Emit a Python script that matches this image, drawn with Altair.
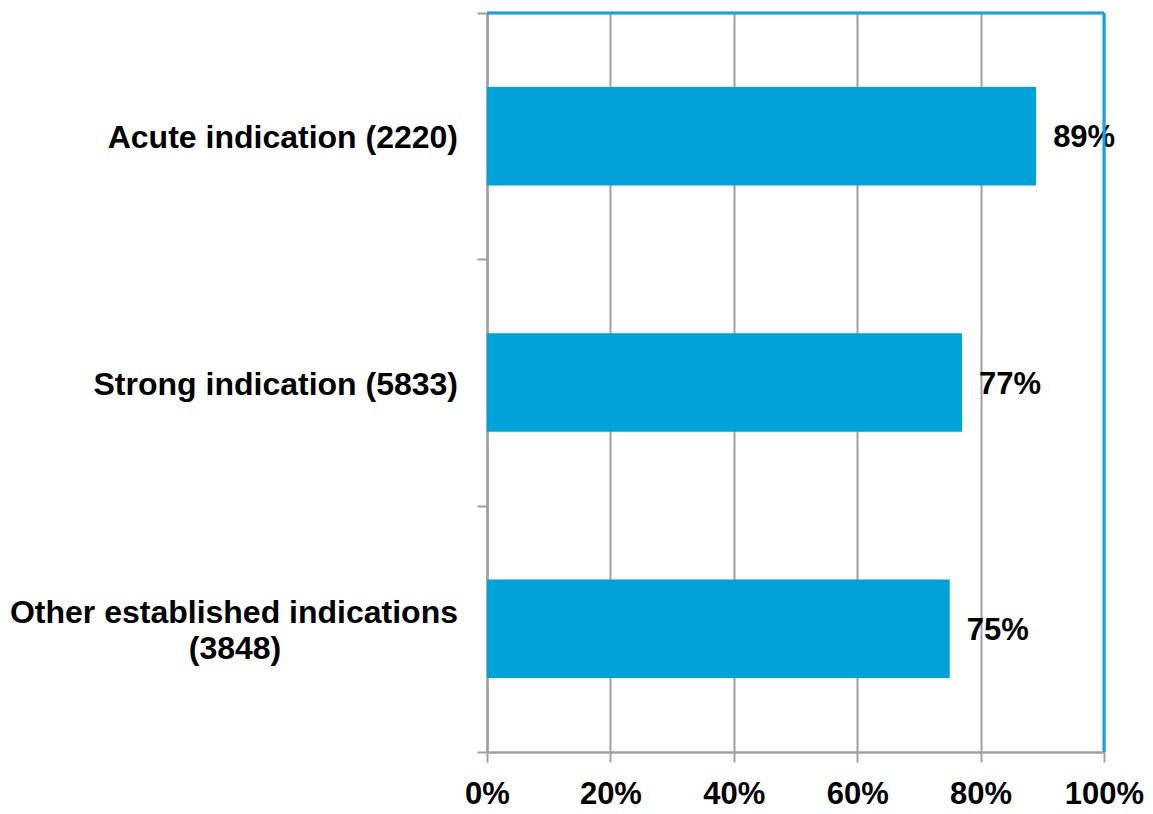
import altair as alt
import pandas as pd

# Indication groups (sample size in brackets) and share of patients, in percent
categories = [
    "Acute indication (2220)",
    "Strong indication (5833)",
    "Other established indications (3848)",
]
label_lines = [
    ["Acute indication (2220)"],
    ["Strong indication (5833)"],
    ["Other established indications", "(3848)"],
]
shares = [89, 77, 75]
x_ticks = [0, 20, 40, 60, 80, 100]

BAR_BLUE = "#00A2DA"
FRAME_BLUE = "#17A3DC"
GREY = "#A0A0A0"
FONT = "Liberation Sans"

W, H = 617, 739

bars_df = pd.DataFrame({"group": categories, "share": shares})

rows = []
for cat, lines in zip(categories, label_lines):
    n = len(lines)
    for i, t in enumerate(lines):
        kind = "single" if n == 1 else ("first" if i == 0 else "second")
        rows.append({"group": cat, "line": t, "kind": kind})
labels_df = pd.DataFrame(rows)

# one band per group with no padding, so ticks fall on the band boundaries;
# the bars themselves take 40% of each band
y_scale = alt.Scale(paddingInner=0, paddingOuter=0)

y_enc = alt.Y(
    "group:N",
    sort=categories,
    scale=y_scale,
    axis=alt.Axis(
        title=None,
        labels=False,
        tickBand="extent",
        tickSize=10,
        tickColor=GREY,
        tickWidth=2,
        domainColor=GREY,
        domainWidth=2.5,
        grid=False,
    ),
)

x_enc = alt.X(
    "share:Q",
    scale=alt.Scale(domain=[0, 100], nice=False),
    axis=alt.Axis(
        title=None,
        values=x_ticks,
        labelExpr="datum.value + '%'",
        labelFont=FONT,
        labelFontWeight="bold",
        labelFontSize=31,
        labelColor="#000000",
        labelPadding=17,
        labelFlush=False,
        labelOverlap=False,
        tickSize=10,
        tickColor=GREY,
        tickWidth=2,
        domainColor=GREY,
        domainWidth=2.5,
        grid=True,
        gridColor=GREY,
        gridWidth=2,
    ),
)

bars = alt.Chart(bars_df).mark_bar(
    color=BAR_BLUE, height=alt.RelativeBandSize(0.4)
).encode(y=y_enc, x=x_enc)

values = alt.Chart(bars_df).transform_calculate(
    pct="datum.share + '%'"
).mark_text(
    align="left", baseline="middle", dx=17, dy=2,
    font=FONT, fontWeight="bold", fontSize=31, color="#000000",
).encode(
    y=alt.Y("group:N", sort=categories),
    x="share:Q",
    text="pct:N",
)

label_style = dict(font=FONT, fontWeight="bold", fontSize=32, color="#000000", baseline="middle")

single = alt.Chart(labels_df).transform_filter("datum.kind == 'single'").mark_text(
    align="right", dy=2, **label_style
).encode(y=alt.Y("group:N", sort=categories), x=alt.value(-29), text="line:N")

first = alt.Chart(labels_df).transform_filter("datum.kind == 'first'").mark_text(
    align="right", dy=-16, **label_style
).encode(y=alt.Y("group:N", sort=categories), x=alt.value(-29), text="line:N")

second = alt.Chart(labels_df).transform_filter("datum.kind == 'second'").mark_text(
    align="center", dy=20, **label_style
).encode(y=alt.Y("group:N", sort=categories), x=alt.value(-252), text="line:N")

# blue frame along the top and right edges of the plot area
top_edge = alt.Chart(bars_df).mark_rule(color=FRAME_BLUE, strokeWidth=2.5).encode(
    x=alt.value(0), x2=alt.value(W), y=alt.value(0)
)
right_edge = alt.Chart(bars_df).mark_rule(color=FRAME_BLUE, strokeWidth=2.5).encode(
    x=alt.value(W), y=alt.value(0), y2=alt.value(H)
)

chart = (
    alt.layer(bars, values, single, first, second, top_edge, right_edge)
    .properties(
        width=W,
        height=H,
        autosize=alt.AutoSizeParams(type="none"),
        padding={"left": 487, "top": 13, "right": 49, "bottom": 62},
        background="#FFFFFF",
    )
    .configure_view(stroke=None)
)

chart.save("out.html", embed_options={"renderer": "svg", "actions": False})
